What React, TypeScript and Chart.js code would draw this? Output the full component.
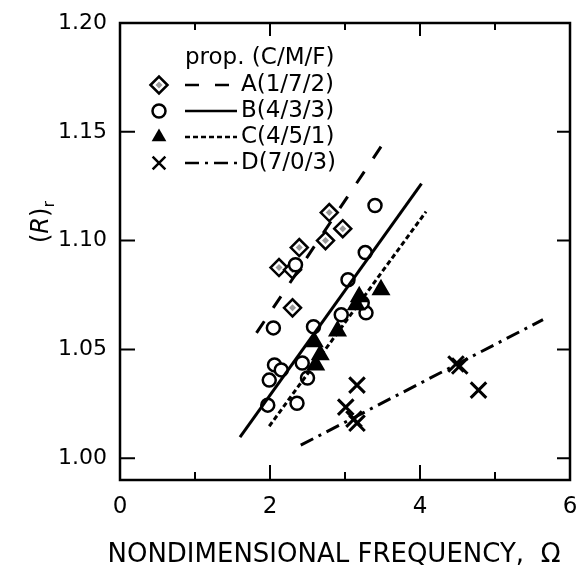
import React, { useEffect, useRef } from 'react';
import { Chart, registerables } from 'chart.js';

Chart.register(...registerables);

// ---------- data ----------
const seriesNames = ['A(1/7/2)', 'B(4/3/3)', 'C(4/5/1)', 'D(7/0/3)'];
const legendTitle = 'prop. (C/M/F)';
const xTitle = 'NONDIMENSIONAL FREQUENCY,  Ω';
const xMajorTicks = [0, 2, 4, 6];
const xMinorTicks = [1, 3, 5];
const yTicks = [1.0, 1.05, 1.1, 1.15, 1.2];

const aX = [2.12, 2.3, 2.39, 2.3, 2.74, 2.79, 2.97];
const aY = [1.0876, 1.0866, 1.0968, 1.0691, 1.1, 1.1129, 1.1055];
const bX = [3.4, 3.27, 3.04, 2.34, 2.045, 2.58, 2.95, 3.28, 3.23, 2.06, 2.15, 2.43, 1.99, 2.5, 1.97, 2.36];
const bY = [1.1161, 1.0945, 1.082, 1.0889, 1.0599, 1.0604, 1.0659, 1.0668, 1.0714, 1.0429, 1.0406, 1.0438, 1.0359, 1.0369, 1.0244, 1.0253];
const cX = [3.48, 3.19, 3.15, 2.9, 2.59, 2.67, 2.61];
const cY = [1.0774, 1.0742, 1.0705, 1.0585, 1.0535, 1.0475, 1.0429];
const dX = [3.16, 3.01, 3.12, 3.16, 4.48, 4.53, 4.78];
const dY = [1.0336, 1.0235, 1.018, 1.0161, 1.0433, 1.0424, 1.0313];

const fitAX = [1.82, 3.5];
const fitAY = [1.0576, 1.1442];
const fitBX = [1.6, 4.02];
const fitBY = [1.0097, 1.1262];
const fitCX = [1.99, 4.08];
const fitCY = [1.0147, 1.1133];
const fitDX = [2.41, 5.64];
const fitDY = [1.006, 1.0637];

// ---------- styles ----------
const FONT = '"DejaVu Sans", sans-serif';
const pointStyles = ['rectRot', 'circle', 'triangle', 'crossRot'];
const pointRadii = [8.5, 6.5, 8.5, 11];
const dashes: number[][] = [[14, 16], [], [5, 3], [14, 6, 3, 6]];

const pts = (xs: number[], ys: number[]) => xs.map((x, i) => ({ x, y: ys[i] }));

function drawMarker(ctx: CanvasRenderingContext2D, style: string, x: number, y: number, r: number) {
  ctx.beginPath();
  if (style === 'rectRot') {
    ctx.moveTo(x - r, y); ctx.lineTo(x, y - r); ctx.lineTo(x + r, y); ctx.lineTo(x, y + r); ctx.closePath();
    ctx.fillStyle = '#fff'; ctx.fill(); ctx.stroke();
    ctx.beginPath();
    const q = 3.5;
    ctx.moveTo(x - q, y); ctx.lineTo(x, y - q); ctx.lineTo(x + q, y); ctx.lineTo(x, y + q); ctx.closePath();
    ctx.fillStyle = '#999'; ctx.fill();
  } else if (style === 'circle') {
    ctx.arc(x, y, r, 0, Math.PI * 2);
    ctx.fillStyle = '#fff'; ctx.fill(); ctx.stroke();
  } else if (style === 'triangle') {
    ctx.moveTo(x, y - r);
    ctx.lineTo(x + r * Math.sin((2 * Math.PI) / 3), y - r * Math.cos((2 * Math.PI) / 3));
    ctx.lineTo(x + r * Math.sin((4 * Math.PI) / 3), y - r * Math.cos((4 * Math.PI) / 3));
    ctx.closePath();
    ctx.fillStyle = '#000'; ctx.fill();
  } else {
    const o = r * Math.SQRT1_2;
    ctx.moveTo(x - o, y - o); ctx.lineTo(x + o, y + o);
    ctx.moveTo(x + o, y - o); ctx.lineTo(x - o, y + o);
    ctx.stroke();
  }
}

const framePlugin = {
  id: 'frameTicksLegend',
  afterDatasetsDraw(chart: any) {
    const { ctx, chartArea } = chart;
    const { left, right, top, bottom } = chartArea;
    const xs = chart.scales.x;
    const ys = chart.scales.y;
    ctx.save();
    ctx.strokeStyle = '#000';
    ctx.lineWidth = 2.5;
    ctx.strokeRect(left, top, right - left, bottom - top);
    ctx.lineWidth = 2;
    ctx.beginPath();
    for (const v of xMajorTicks) {
      const p = xs.getPixelForValue(v);
      ctx.moveTo(p, bottom); ctx.lineTo(p, bottom - 15);
      ctx.moveTo(p, top); ctx.lineTo(p, top + 13);
    }
    for (const v of xMinorTicks) {
      const p = xs.getPixelForValue(v);
      ctx.moveTo(p, bottom); ctx.lineTo(p, bottom - 8);
      ctx.moveTo(p, top); ctx.lineTo(p, top + 7);
    }
    for (const v of yTicks) {
      const p = ys.getPixelForValue(v);
      ctx.moveTo(left, p); ctx.lineTo(left + 15, p);
      ctx.moveTo(right, p); ctx.lineTo(right - 13, p);
    }
    ctx.stroke();

    // legend
    ctx.fillStyle = '#000';
    ctx.font = `23px ${FONT}`;
    ctx.textBaseline = 'middle';
    ctx.textAlign = 'left';
    ctx.fillText(legendTitle, left + 65, top + 35);
    seriesNames.forEach((name, i) => {
      const ry = top + 62 + i * 26;
      ctx.strokeStyle = '#000';
      ctx.lineWidth = 2.5;
      ctx.setLineDash([]);
      drawMarker(ctx, pointStyles[i], left + 39, ry, i === 3 ? 9 : pointRadii[i]);
      ctx.beginPath();
      ctx.setLineDash(dashes[i]);
      ctx.moveTo(left + 65, ry);
      ctx.lineTo(left + 117, ry);
      ctx.stroke();
      ctx.setLineDash([]);
      ctx.fillStyle = '#000';
      ctx.fillText(name, left + 121, ry);
    });

    // x title
    ctx.font = `26px ${FONT}`;
    ctx.textAlign = 'center';
    ctx.fillText(xTitle, 334, 555);

    // y title: (R)r
    ctx.translate(42, 222);
    ctx.rotate(-Math.PI / 2);
    const f1 = `24px ${FONT}`;
    const fi = `italic 24px ${FONT}`;
    const fs = `16px ${FONT}`;
    ctx.font = f1; const w1 = ctx.measureText('(').width; const w3 = ctx.measureText(')').width;
    ctx.font = fi; const w2 = ctx.measureText('R').width;
    ctx.font = fs; const w4 = ctx.measureText('r').width;
    let cx = -(w1 + w2 + w3 + w4) / 2;
    ctx.textAlign = 'left';
    ctx.font = f1; ctx.fillText('(', cx, 0); cx += w1;
    ctx.font = fi; ctx.fillText('R', cx, 0); cx += w2;
    ctx.font = f1; ctx.fillText(')', cx, 0); cx += w3;
    ctx.font = fs; ctx.fillText('r', cx, 8);
    ctx.restore();
  },
};

export default function App() {
  const ref = useRef<HTMLCanvasElement | null>(null);
  useEffect(() => {
    if (!ref.current) return;
    const lineDs = (xs: number[], ys: number[], dash: number[]) => ({
      type: 'line' as const,
      data: pts(xs, ys),
      borderColor: '#000',
      borderWidth: 3,
      borderDash: dash,
      pointRadius: 0,
      fill: false,
      showLine: true,
      order: 0,
    });
    const scatterDs = (label: string, xs: number[], ys: number[], i: number, order: number) => ({
      type: 'scatter' as const,
      label,
      data: pts(xs, ys),
      pointStyle: pointStyles[i],
      pointRadius: pointRadii[i],
      pointBorderWidth: i === 3 ? 3 : 2.5,
      pointBorderColor: '#000',
      pointBackgroundColor: i === 2 ? '#000' : '#fff',
      order,
    });
    const chart = new Chart(ref.current, {
      type: 'scatter',
      data: {
        datasets: [
          lineDs(fitAX, fitAY, dashes[0]),
          lineDs(fitBX, fitBY, dashes[1]),
          lineDs(fitCX, fitCY, dashes[2]),
          lineDs(fitDX, fitDY, dashes[3]),
          scatterDs(seriesNames[0], aX, aY, 0, 5),
          {
            type: 'scatter' as const,
            label: 'A-inner',
            data: pts(aX, aY),
            pointStyle: 'rectRot',
            pointRadius: 3.5,
            pointBorderWidth: 0,
            pointBackgroundColor: '#999',
            order: 4,
          },
          scatterDs(seriesNames[1], bX, bY, 1, 3),
          scatterDs(seriesNames[2], cX, cY, 2, 2),
          scatterDs(seriesNames[3], dX, dY, 3, 1),
        ],
      },
      options: {
        responsive: false,
        animation: false,
        layout: { padding: { top: 23, right: 12, left: 0, bottom: 0 } },
        plugins: { legend: { display: false }, tooltip: { enabled: false } },
        scales: {
          x: {
            type: 'linear',
            min: 0,
            max: 6,
            grid: { display: false, drawTicks: false },
            border: { display: false },
            afterBuildTicks: (s: any) => { s.ticks = xMajorTicks.map((v) => ({ value: v })); },
            afterFit: (s: any) => { s.height = 95; s.paddingLeft = 0; s.paddingRight = 0; },
            ticks: {
              padding: 13,
              color: '#000',
              font: { family: FONT, size: 23 },
              callback: (v: any) => String(v),
            },
          },
          y: {
            type: 'linear',
            min: 0.99,
            max: 1.2,
            grid: { display: false, drawTicks: false },
            border: { display: false },
            afterBuildTicks: (s: any) => { s.ticks = yTicks.map((v) => ({ value: v })); },
            afterFit: (s: any) => { s.width = 120; s.paddingTop = 0; s.paddingBottom = 0; },
            ticks: {
              padding: 13,
              color: '#000',
              font: { family: FONT, size: 22 },
              callback: (v: any) => Number(v).toFixed(2),
            },
          },
        },
      },
      plugins: [framePlugin],
    } as any);
    return () => chart.destroy();
  }, []);
  return (
    <div style={{ position: 'absolute', left: 0, top: 0, width: 584, height: 575, background: '#fff' }}>
      <canvas ref={ref} width={584} height={575} />
    </div>
  );
}
